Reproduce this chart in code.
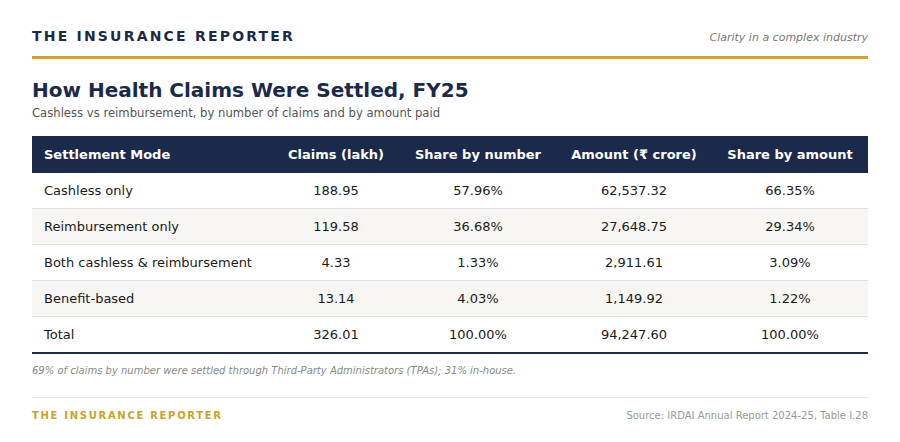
<!DOCTYPE html>
<html><head><meta charset="utf-8">
<script src="https://cdn.jsdelivr.net/npm/chart.js@4"></script>
<style>
body{margin:0;width:900px;height:442px;background:#fff;font-family:"DejaVu Sans",sans-serif;position:relative;overflow:hidden}
.abs{position:absolute}
#brand{left:32px;top:28px;font-size:14px;font-weight:bold;letter-spacing:2.2px;color:#1b2a4a}
#tag{right:32px;top:31px;font-size:11px;font-style:italic;color:#777}
#rule{left:32px;top:56px;width:836px;height:3px;background:#d4a21c}
#title{left:32px;top:78px;font-size:20px;font-weight:bold;color:#1b2a4a}
#sub{left:32px;top:106px;font-size:12px;color:#555;transform:scaleX(0.968);transform-origin:left top;white-space:nowrap}
table{position:absolute;left:32px;top:136px;width:836px;border-collapse:collapse;font-size:13px;color:#1a1a1a}
th{background:#1b2a4a;color:#fff;font-weight:bold;height:37px;padding:0;text-align:center}
td{height:35px;padding:0;text-align:center;border-bottom:1px solid #e2e2e2}
th:first-child,td:first-child{text-align:left;padding-left:12px}
tr:nth-child(even) td{background:#f7f6f2}
tr:last-child td{border-bottom:2px solid #1b2a4a}
#note{left:32px;top:365px;font-size:10px;font-style:italic;color:#888}
#rule2{left:32px;top:397px;width:836px;height:1px;background:#e6e6e6}
#foot{left:32px;top:410px;font-size:10px;font-weight:bold;letter-spacing:1.7px;color:#c9a227}
#src{right:32px;top:410px;font-size:10px;color:#999}
</style></head><body>
<div class="abs" id="brand">THE INSURANCE REPORTER</div>
<div class="abs" id="tag">Clarity in a complex industry</div>
<div class="abs" id="rule"></div>
<div class="abs" id="title">How Health Claims Were Settled, FY25</div>
<div class="abs" id="sub">Cashless vs reimbursement, by number of claims and by amount paid</div>
<table id="tbl"><colgroup><col style="width:240px"><col style="width:128px"><col style="width:156px"><col style="width:156px"><col style="width:156px"></colgroup><thead><tr id="head"></tr></thead><tbody id="body"></tbody></table>
<div class="abs" id="note">69% of claims by number were settled through Third-Party Administrators (TPAs); 31% in-house.</div>
<div class="abs" id="rule2"></div>
<div class="abs" id="foot">THE INSURANCE REPORTER</div>
<div class="abs" id="src">Source: IRDAI Annual Report 2024-25, Table I.28</div>
<script>
const columns = ['Settlement Mode', 'Claims (lakh)', 'Share by number', 'Amount (₹ crore)', 'Share by amount'];
const modes = ['Cashless only', 'Reimbursement only', 'Both cashless & reimbursement', 'Benefit-based', 'Total'];
const claims = ['188.95', '119.58', '4.33', '13.14', '326.01'];
const shareNumber = ['57.96%', '36.68%', '1.33%', '4.03%', '100.00%'];
const amount = ['62,537.32', '27,648.75', '2,911.61', '1,149.92', '94,247.60'];
const shareAmount = ['66.35%', '29.34%', '3.09%', '1.22%', '100.00%'];

const head = document.getElementById('head');
columns.forEach(c => {
  const th = document.createElement('th');
  th.textContent = c;
  head.appendChild(th);
});
const body = document.getElementById('body');
for (let i = 0; i < modes.length; ++i) {
  const tr = document.createElement('tr');
  [modes[i], claims[i], shareNumber[i], amount[i], shareAmount[i]].forEach(v => {
    const td = document.createElement('td');
    td.textContent = v;
    tr.appendChild(td);
  });
  body.appendChild(tr);
}
</script>
</body></html>
